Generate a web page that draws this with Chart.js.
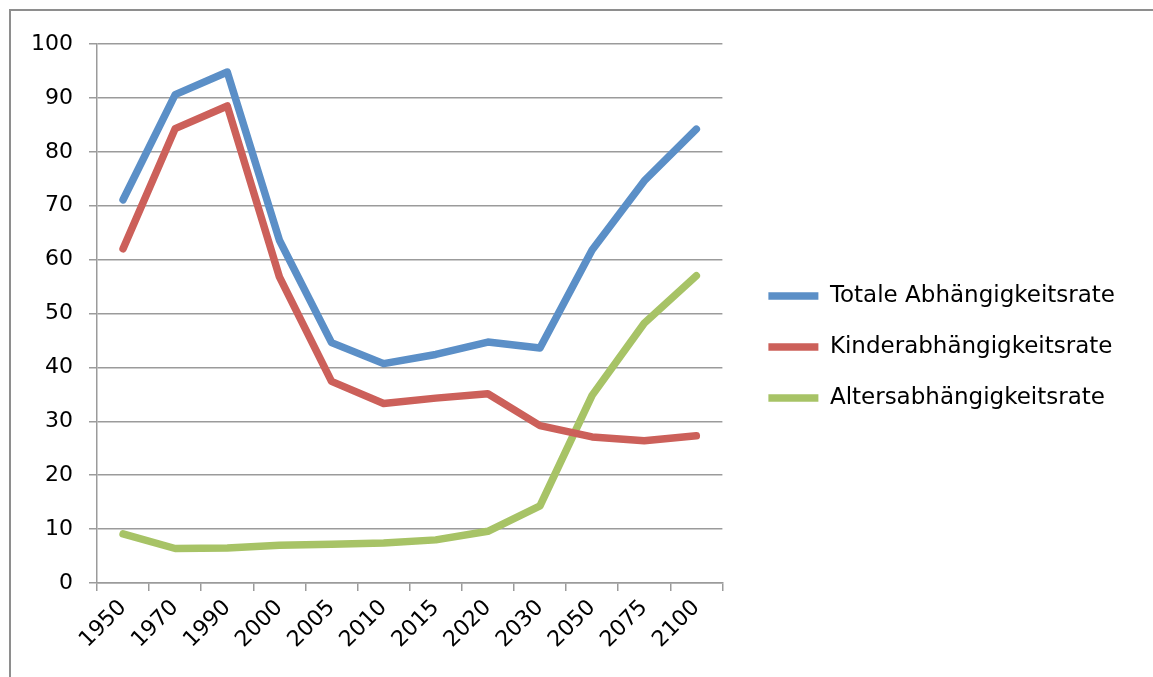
<!DOCTYPE html>
<html lang="de">
<head>
<meta charset="utf-8">
<title>Abhängigkeitsraten 1950–2100</title>
<script src="https://cdn.jsdelivr.net/npm/chart.js@4/dist/chart.umd.min.js"></script>
<style>
  html, body { margin: 0; padding: 0; background: #ffffff; }
  #wrap { width: 1153px; height: 677px; }
</style>
</head>
<body>
<div id="wrap"><canvas id="chart" width="1153" height="677"></canvas></div>
<script>
// Jahre der Kategorienachse
const categories = ['1950', '1970', '1990', '2000', '2005', '2010', '2015', '2020', '2030', '2050', '2075', '2100'];

// Abhängigkeitsraten je Jahr
const totalRate  = [71.1, 90.6, 94.8, 63.6, 44.6, 40.7, 42.4, 44.7, 43.6, 61.8, 74.6, 84.2];
const childRate  = [62.0, 84.3, 88.5, 56.8, 37.4, 33.3, 34.3, 35.1, 29.2, 27.1, 26.4, 27.3];
const oldAgeRate = [9.1, 6.4, 6.5, 7.0, 7.2, 7.4, 8.0, 9.6, 14.3, 34.8, 48.2, 57.0];

const seriesNames = ['Totale Abhängigkeitsrate', 'Kinderabhängigkeitsrate', 'Altersabhängigkeitsrate'];

// Wertebereich der y-Achse
const yMin = 0;
const yMax = 100;
const yStep = 10;

const FONT = 'DejaVu Sans, Verdana, sans-serif';
const AXIS_GREY = '#9b9b9b';

// Rahmen um das gesamte Diagramm (oben und links sichtbar)
const framePlugin = {
  id: 'frame',
  beforeDraw(chart) {
    const ctx = chart.ctx;
    ctx.save();
    ctx.fillStyle = '#ffffff';
    ctx.fillRect(0, 0, chart.width, chart.height);
    ctx.strokeStyle = '#8e8e8e';
    ctx.lineWidth = 2;
    ctx.beginPath();
    ctx.moveTo(10, chart.height);
    ctx.lineTo(10, 10);
    ctx.lineTo(chart.width, 10);
    ctx.stroke();
    ctx.restore();
  }
};

function series(label, data, color) {
  return {
    label,
    data,
    borderColor: color,
    backgroundColor: color,
    borderWidth: 7.5,
    borderCapStyle: 'round',
    borderJoinStyle: 'round',
    pointRadius: 0,
    pointHoverRadius: 0,
    pointStyle: 'line',
    tension: 0,
    fill: false
  };
}

new Chart(document.getElementById('chart'), {
  type: 'line',
  data: {
    labels: categories,
    datasets: [
      series(seriesNames[0], totalRate, '#5b8fc7'),
      series(seriesNames[1], childRate, '#cc605a'),
      series(seriesNames[2], oldAgeRate, '#a7c366')
    ]
  },
  options: {
    responsive: false,
    animation: false,
    events: [],
    layout: { padding: { left: 0, top: 44, right: 28, bottom: 27 } },
    plugins: {
      tooltip: { enabled: false },
      legend: {
        position: 'right',
        align: 'center',
        maxWidth: 420,
        labels: {
          usePointStyle: true,
          pointStyleWidth: 50,
          padding: 28,
          color: '#000000',
          font: { family: FONT, size: 23 }
        }
      }
    },
    scales: {
      x: {
        type: 'category',
        offset: true,
        grid: {
          offset: true,
          drawOnChartArea: false,
          drawTicks: true,
          tickLength: 8,
          color: AXIS_GREY,
          lineWidth: 1.5
        },
        border: { display: true, color: AXIS_GREY, width: 1.5 },
        ticks: {
          color: '#000000',
          font: { family: FONT, size: 22 },
          minRotation: 45,
          maxRotation: 45,
          padding: 4,
          autoSkip: false
        },
        afterFit(scale) { scale.height = 67; }
      },
      y: {
        type: 'linear',
        min: yMin,
        max: yMax,
        grid: {
          drawOnChartArea: true,
          drawTicks: true,
          tickLength: 8,
          color: AXIS_GREY,
          lineWidth: 1.5
        },
        border: { display: true, color: AXIS_GREY, width: 1.5 },
        ticks: {
          stepSize: yStep,
          color: '#000000',
          font: { family: FONT, size: 22 },
          padding: 16
        },
        afterFit(scale) { scale.width = 97; }
      },
      // Abstand zwischen Zeichenfläche und Legende
      gap: {
        type: 'linear',
        position: 'right',
        display: true,
        grid: { display: false, drawTicks: false },
        border: { display: false },
        ticks: { display: false },
        afterFit(scale) { scale.width = 18; }
      }
    }
  },
  plugins: [framePlugin]
});
</script>
</body>
</html>
